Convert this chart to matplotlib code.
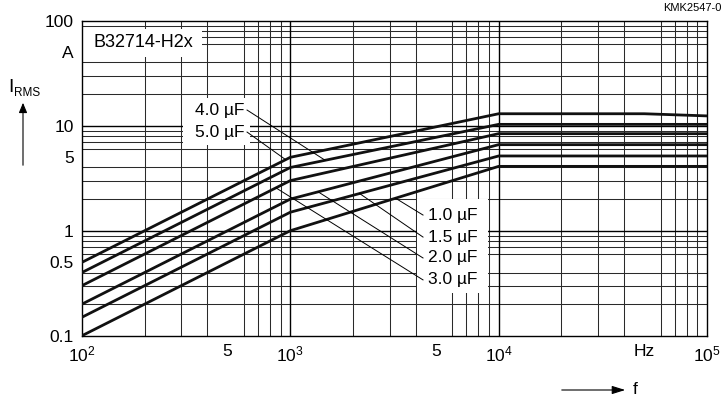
import numpy as np
import matplotlib
matplotlib.use("Agg")
import matplotlib.pyplot as plt
from matplotlib.ticker import LogLocator, NullFormatter, FixedLocator, FixedFormatter
from matplotlib.patches import Rectangle

plt.rcParams['font.family'] = ['Liberation Sans', 'DejaVu Sans']
plt.rcParams['mathtext.default'] = 'regular'

# frequency points (Hz) shared by all curves
freq = [1e2, 1e3, 1e4, 5e4, 1e5]

# I_RMS (A) per capacitance
i_5u0 = [0.5, 5.0, 13.0, 13.0, 12.4]
i_4u0 = [0.4, 4.0, 10.3, 10.3, 10.3]
i_3u0 = [0.3, 3.0, 8.4, 8.4, 8.4]
i_2u0 = [0.2, 2.0, 6.6, 6.6, 6.6]
i_1u5 = [0.15, 1.5, 5.15, 5.15, 5.15]
i_1u0 = [0.1, 1.0, 4.1, 4.1, 4.1]

curves = [i_5u0, i_4u0, i_3u0, i_2u0, i_1u5, i_1u0]

xticks = [1e2, 5e2, 1e3, 5e3, 1e4, 5e4, 1e5]
xticklabels = ['$10^2$', '5', '$10^3$', '5', '$10^4$', 'Hz', '$10^5$']
yticks = [0.1, 0.5, 1, 5, 10, 50, 100]
yticklabels = ['0.1', '0.5', '1', '5', '10', 'A', '100']

fig = plt.figure(figsize=(7.26, 3.99), dpi=100)
ax = fig.add_axes([0.1129, 0.1586, 0.8609, 0.7895])
ax.set_xscale('log')
ax.set_yscale('log')
ax.set_xlim(1e2, 1e5)
ax.set_ylim(0.1, 100)

# grid: full minor grid in every decade
ax.xaxis.set_minor_locator(LogLocator(base=10, subs=np.arange(2, 10)))
ax.yaxis.set_minor_locator(LogLocator(base=10, subs=np.arange(2, 10)))
ax.xaxis.set_minor_formatter(NullFormatter())
ax.yaxis.set_minor_formatter(NullFormatter())
ax.grid(which='minor', color='#2a2a2a', lw=0.75)
for v in [1e3, 1e4]:
    ax.axvline(v, color='black', lw=1.0, zorder=1)
for v in [1, 10]:
    ax.axhline(v, color='black', lw=1.0, zorder=1)
ax.set_axisbelow(True)

ax.xaxis.set_major_locator(FixedLocator(xticks))
ax.xaxis.set_major_formatter(FixedFormatter(xticklabels))
ax.yaxis.set_major_locator(FixedLocator(yticks))
ax.yaxis.set_major_formatter(FixedFormatter(yticklabels))
ax.tick_params(which='both', length=0, labelsize=12.5)
ax.tick_params(axis='y', pad=6)
ax.tick_params(axis='x', pad=6)
for s in ax.spines.values():
    s.set_color('black')
    s.set_linewidth(1.0)

for c in curves:
    ax.plot(freq, c, color='#111111', lw=2.0, solid_joinstyle='miter', zorder=3)

# label boxes
for (x0, y0, w, h) in [(0.002, 0.885, 0.19, 0.09), (0.161, 0.605, 0.108, 0.15),
                       (0.536, 0.135, 0.113, 0.3)]:
    ax.add_patch(Rectangle((x0, y0), w, h, transform=ax.transAxes,
                           facecolor='white', edgecolor='none', zorder=2))
ax.text(0.018, 0.93, 'B32714-H2x', transform=ax.transAxes, fontsize=13,
        va='center', ha='left', zorder=4)


def on_curve(c, x):
    return np.interp(np.log10(x), np.log10(freq), np.log10(c))


# leaders: (label, curve, x on curve, text x, text y, side)
leaders = [
    ('4.0 µF', i_4u0, 1470, 620, 14.1, 'L'),
    ('5.0 µF', i_5u0, 950, 620, 8.7, 'L'),
    ('1.0 µF', i_1u0, 3200, 4335, 1.41, 'R'),
    ('1.5 µF', i_1u5, 2150, 4335, 0.87, 'R'),
    ('2.0 µF', i_2u0, 1360, 4335, 0.55, 'R'),
    ('3.0 µF', i_3u0, 853, 4335, 0.34, 'R'),
]
for lab, c, xc, xt, yt, side in leaders:
    yc = 10 ** on_curve(c, xc)
    ax.plot([xc, xt], [yc, yt], color='black', lw=0.7, zorder=4)
    if side == 'L':
        ax.text(xt * 0.975, yt, lab, ha='right', va='center', fontsize=12.5, zorder=4)
    else:
        ax.text(xt * 1.06, yt, lab, ha='left', va='center', fontsize=12.5, zorder=4)

# axis titles with arrows
fig.text(8 / 726, 1 - 87 / 399, 'I', fontsize=14, va='center', ha='left')
fig.text(14 / 726, 1 - 93 / 399, 'RMS', fontsize=8.5, va='center', ha='left')
fig.add_artist(matplotlib.patches.FancyArrowPatch(
    (23 / 726, 1 - 168 / 399), (23 / 726, 1 - 100 / 399), transform=fig.transFigure,
    arrowstyle='-|>,head_length=6,head_width=2.5', color='black', lw=0.8))
fig.add_artist(matplotlib.patches.FancyArrowPatch(
    (559 / 726, 1 - 390 / 399), (628 / 726, 1 - 390 / 399), transform=fig.transFigure,
    arrowstyle='-|>,head_length=8,head_width=2.5', color='black', lw=0.8))
fig.text(633 / 726, 1 - 389 / 399, 'f', fontsize=12.5, va='center', ha='left')
fig.text(721 / 726, 1 - 8 / 399, 'KMK2547-0', fontsize=8, va='center', ha='right')

fig.savefig('out.png', dpi=100)
